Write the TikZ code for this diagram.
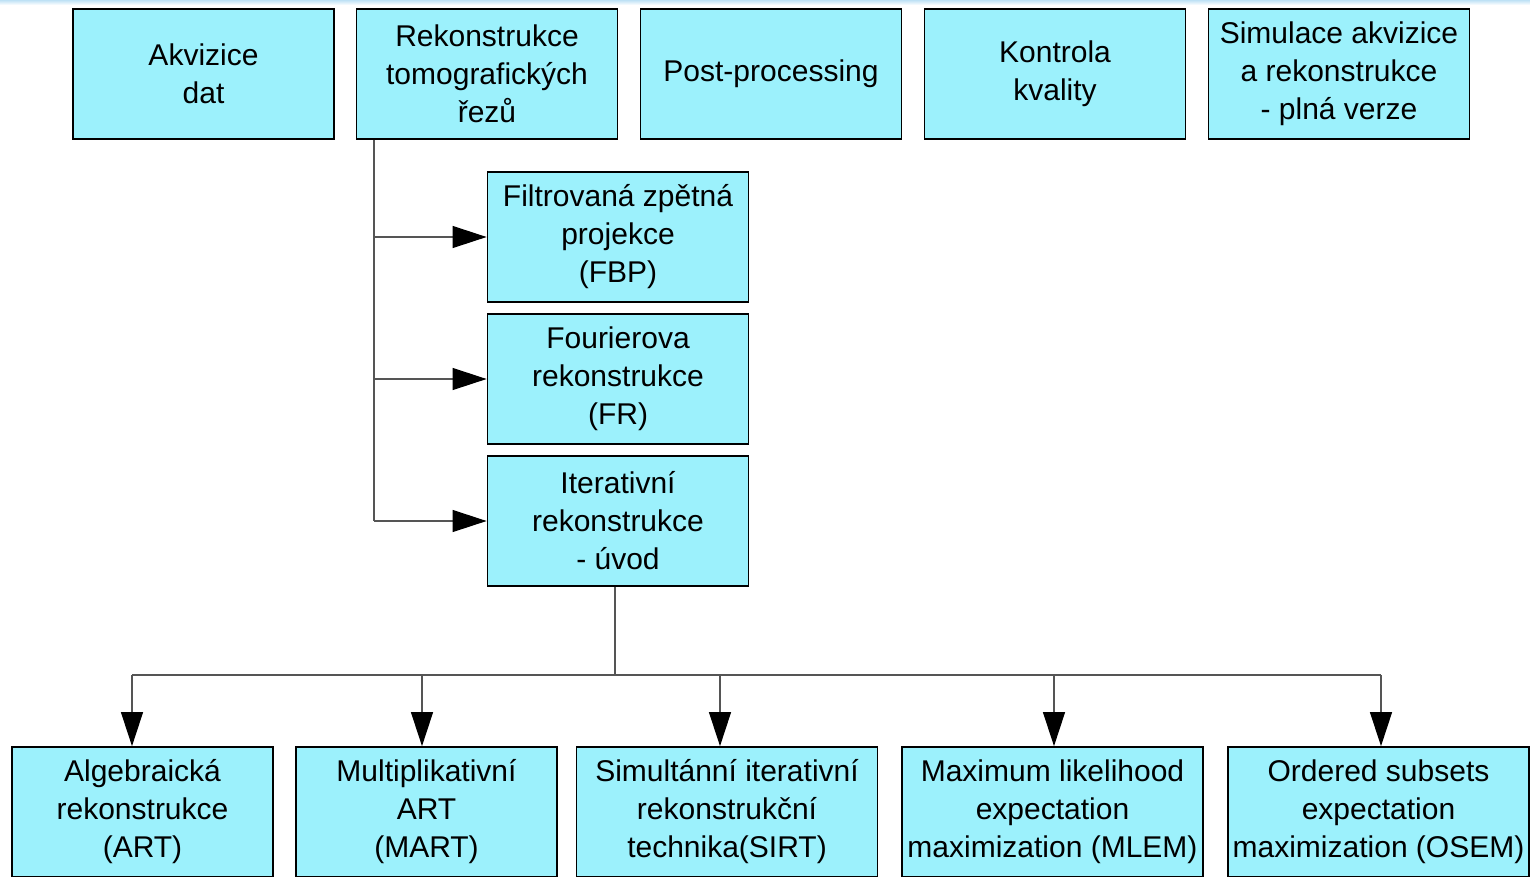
\documentclass[tikz,border=0pt]{standalone}
\usepackage{fontspec}
\setmainfont{Liberation Sans}
\usetikzlibrary{arrows.meta}
\definecolor{boxcyan}{RGB}{156,241,252}
\definecolor{linegrey}{RGB}{85,85,85}
\definecolor{topband}{RGB}{190,225,245}
\tikzset{
  blok/.style={draw=black, line width=1.8pt, fill=boxcyan, minimum width=261pt,
    minimum height=130pt, inner sep=0pt, align=center,
    font=\fontsize{30}{38}\selectfont},
  siroky/.style={blok, minimum width=301pt},
  spoj/.style={draw=linegrey, line width=1.1pt},
  sipka/.style={spoj, -{Triangle[length=34pt,width=22pt,color=black]}}
}
\begin{document}
\begin{tikzpicture}[x=1pt,y=-1pt]
          \useasboundingbox (0,0) rectangle (1530,876);
          \shade[top color=topband, bottom color=white] (0,0) rectangle (1530,5);

          % horni rada
          \node[blok] (akv) at (203.5,74) {Akvizice\\dat};
          \node[blok] (rek) at (487,74) {Rekonstrukce\\tomografických\\řezů};
          \node[blok] (post) at (771,74) {Post-processing};
          \node[blok] (kon) at (1055,74) {Kontrola\\kvality};
          \node[blok] (sim) at (1339,74) {Simulace akvizice\\a rekonstrukce\\- plná verze};

          % metody rekonstrukce
          \node[blok] (fbp) at (618,237) {Filtrovaná zpětná\\projekce\\(FBP)};
          \node[blok] (fr) at (618,379) {Fourierova\\rekonstrukce\\(FR)};
          \node[blok] (itr) at (618,521) {Iterativní\\rekonstrukce\\- úvod};

          % iterativni metody
          \node[blok] (art) at (142.5,812) {Algebraická\\rekonstrukce\\(ART)};
          \node[blok] (mart) at (426.5,812) {Multiplikativní\\ART\\(MART)};
          \node[siroky] (sirt) at (727,812) {Simultánní iterativní\\rekonstrukční\\technika(SIRT)};
          \node[siroky] (mlem) at (1052.5,812) {Maximum likelihood\\expectation\\maximization (MLEM)};
          \node[siroky] (osem) at (1378.5,812) {Ordered subsets\\expectation\\maximization (OSEM)};

          \coordinate (osa) at (374,0);
          \coordinate (uzel) at (615,675);
          \draw [spoj] (rek.south -| osa) -- (osa |- itr.west);
          \draw [sipka] (osa |- fbp.west) -- (fbp.west);
          \draw [sipka] (osa |- fr.west) -- (fr.west);
          \draw [sipka] (osa |- itr.west) -- (itr.west);

          \coordinate (b1) at (132,675);
          \coordinate (b2) at (422,675);
          \coordinate (b3) at (720,675);
          \coordinate (b4) at (1054,675);
          \coordinate (b5) at (1381,675);
          \draw [spoj] (itr.south -| uzel) -- (uzel);
          \draw [spoj] (b1) -- (b5);
          \draw [sipka] (b1) -- (b1 |- art.north);
          \draw [sipka] (b2) -- (b2 |- mart.north);
          \draw [sipka] (b3) -- (b3 |- sirt.north);
          \draw [sipka] (b4) -- (b4 |- mlem.north);
          \draw [sipka] (b5) -- (b5 |- osem.north);
\end{tikzpicture}
\end{document}
